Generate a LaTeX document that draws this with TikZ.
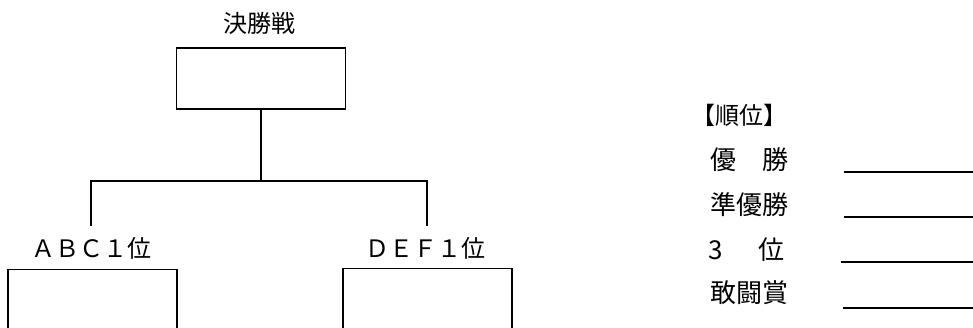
\documentclass[tikz,border=0pt]{standalone}
\usepackage{fontspec}
\setmainfont{Noto Sans CJK JP}
\begin{document}
\begin{tikzpicture}[x=1pt,y=-1pt,line width=1.3pt,
  matchbox/.style={draw,minimum width=169pt,minimum height=61pt,inner sep=0pt},
  lbl/.style={font=\fontsize{24}{28}\selectfont,inner sep=0pt},
  rowlbl/.style={font=\fontsize{26}{30}\selectfont,inner sep=0pt,anchor=west}]
\useasboundingbox (0,0) rectangle (973,328);
\clip (0,0) rectangle (973,328);

\node[lbl] (final) at (259,23) {決勝戦};
\node[matchbox] (top) at (261,78.5) {};
\coordinate (fork) at (261,181);
\coordinate (dropA) at (91,226);
\coordinate (dropD) at (427,226);
\draw (top.south) -- (fork);
\draw (dropA) |- (fork) -| (dropD);

\node[lbl] (abc) at (91,248) {ＡＢＣ１位};
\node[lbl] (def) at (425,248) {ＤＥＦ１位};
\node[matchbox,minimum height=120pt,anchor=north] (boxA) at (92.5,269) {};
\node[matchbox,minimum height=120pt,anchor=north] (boxD) at (427.5,268) {};

\node[lbl] (rank) at (739,115) {【順位】};
\node[rowlbl] (first) at (710,160) {優　勝};
\node[rowlbl] (second) at (710,205) {準優勝};
\node[rowlbl] (third) at (708,250) {\makebox[1.9em][l]{3}位};
\node[rowlbl] (fight) at (710,293) {敢闘賞};

\coordinate (s1) at (844,172); \coordinate (e1) at (973,172);
\coordinate (s2) at (844,217); \coordinate (e2) at (973,217);
\coordinate (s3) at (841,262); \coordinate (e3) at (973,262);
\coordinate (s4) at (843,308); \coordinate (e4) at (973,308);
\draw (s1) -- (e1);
\draw (s2) -- (e2);
\draw (s3) -- (e3);
\draw (s4) -- (e4);
\end{tikzpicture}
\end{document}
